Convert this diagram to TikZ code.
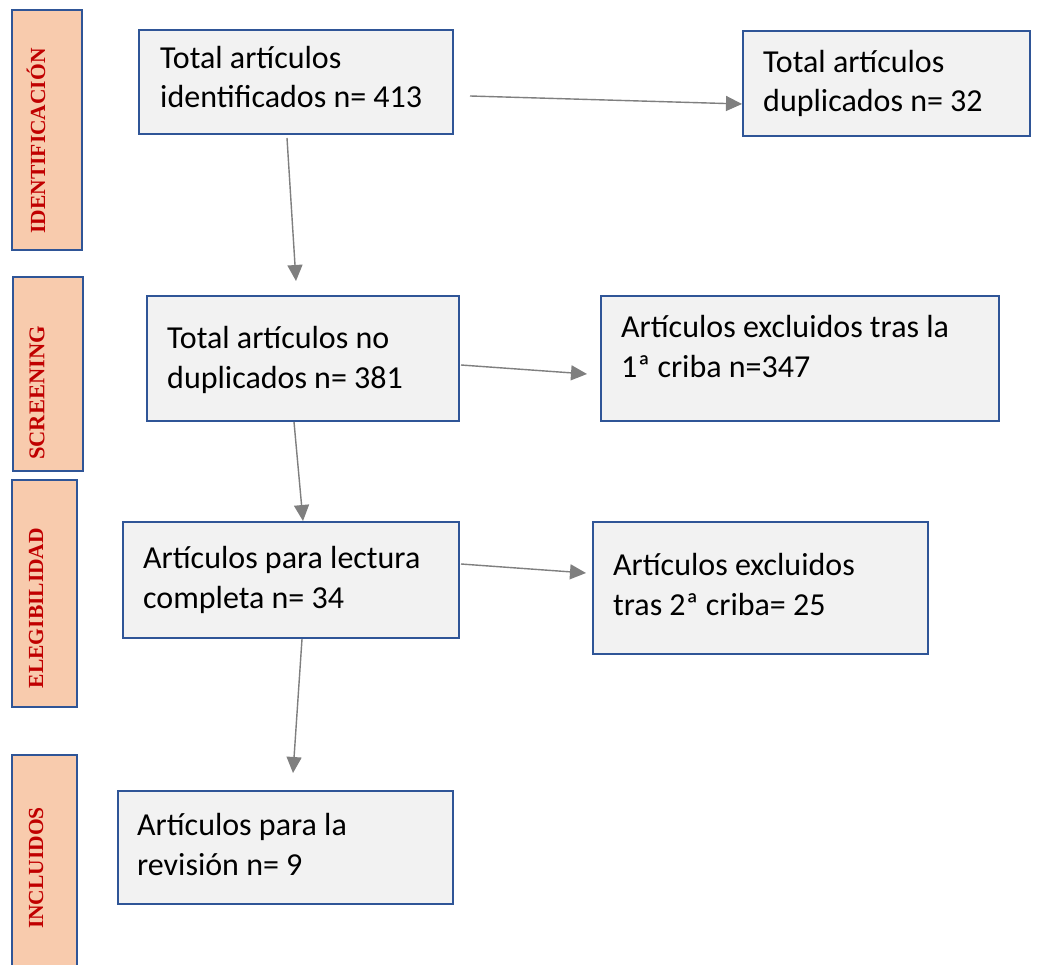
\documentclass[tikz,border=0pt]{standalone}
\usepackage{fontspec}
\setmainfont{Carlito}
\newfontfamily\labfont{Liberation Serif}
\usetikzlibrary{arrows.meta,calc}
\definecolor{boxblue}{HTML}{2F5597}
\definecolor{boxfill}{HTML}{F2F2F2}
\definecolor{labfill}{HTML}{F8CBAD}
\definecolor{labred}{HTML}{C00000}
\definecolor{arrgray}{HTML}{7F7F7F}
\tikzset{
  box/.style={draw=boxblue, fill=boxfill, line width=2pt, rectangle, inner sep=0pt},
  txt/.style={anchor=base west, align=left, inner sep=0pt, font=\fontsize{32}{39.5}\selectfont},
  lab/.style={draw=boxblue, fill=labfill, line width=2.6pt, rectangle, inner sep=0pt},
  labtxt/.style={rotate=90, inner sep=0pt, text=labred, font=\labfont\bfseries\fontsize{21.5}{24}\selectfont},
  arr/.style={draw=arrgray, line width=1.4pt, -{Triangle[length=16pt,width=15pt]}}
}
\begin{document}
\begin{tikzpicture}[x=1pt,y=-1pt]
\clip (0,0) rectangle (1046,965);
\fill[white] (0,0) rectangle (1046,965);
% side labels
\node[lab, minimum width=70, minimum height=240] (l1) at (47,130) {};
\node[labtxt] (l1t) at (36,141) {IDENTIFICACIÓN};
\node[lab, minimum width=70, minimum height=194] (l2) at (48,374) {};
\node[labtxt, font=\labfont\bfseries\fontsize{22.5}{24}\selectfont] (l2t) at (37,393) {SCREENING};
\node[lab, minimum width=65, minimum height=227] (l3) at (44.5,593.5) {};
\node[labtxt] (l3t) at (36,608) {ELEGIBILIDAD};
\node[lab, minimum width=65, minimum height=230] (l4) at (44.5,870) {};
\node[labtxt] (l4t) at (36,868) {INCLUIDOS};
% boxes
\node[box, minimum width=314, minimum height=104] (b1) at (296,82) {};
\node[txt] (b1t) at (160,108) {Total artículos\\identificados n= 413};
\node[box, minimum width=287, minimum height=105] (b2) at (886.5,83.5) {};
\node[txt] (b2t) at (763,112) {Total artículos\\duplicados n= 32};
\node[box, minimum width=312, minimum height=125] (b3) at (303,358.5) {};
\node[txt] (b3t) at (167,388) {Total artículos no\\duplicados n= 381};
\node[box, minimum width=398, minimum height=125] (b4) at (800,358.5) {};
\node[txt] (b4t) at (621,377) {Artículos excluidos tras la\\1ª criba n=347};
\node[box, minimum width=336, minimum height=116] (b5) at (291,580) {};
\node[txt] (b5t) at (143,608) {Artículos para lectura\\completa n= 34};
\node[box, minimum width=335, minimum height=132] (b6) at (760.5,588) {};
\node[txt] (b6t) at (613,615) {Artículos excluidos\\tras 2ª criba= 25};
\node[box, minimum width=335, minimum height=113] (b7) at (285.5,847.5) {};
\node[txt] (b7t) at (137,875) {Artículos para la\\revisión n= 9};
% arrows
\draw[arr] ($(b1.east)+(16,14)$) -- ($(b2.west)+(0,20.5)$);
\draw[arr] ($(b1.south)+(-9,3)$) -- ($(b3.north)+(-7,-14)$);
\draw[arr] ($(b3.east)+(1,6.5)$) -- ($(b4.west)+(-13,15.5)$);
\draw[arr] ($(b3.south)+(-9,0)$) -- ($(b5.north)+(12,0)$);
\draw[arr] ($(b5.east)+(1,-16)$) -- ($(b6.west)+(-6,-15)$);
\draw[arr] ($(b5.south)+(11,0)$) -- ($(b7.north)+(7.5,-17)$);
\end{tikzpicture}
\end{document}
